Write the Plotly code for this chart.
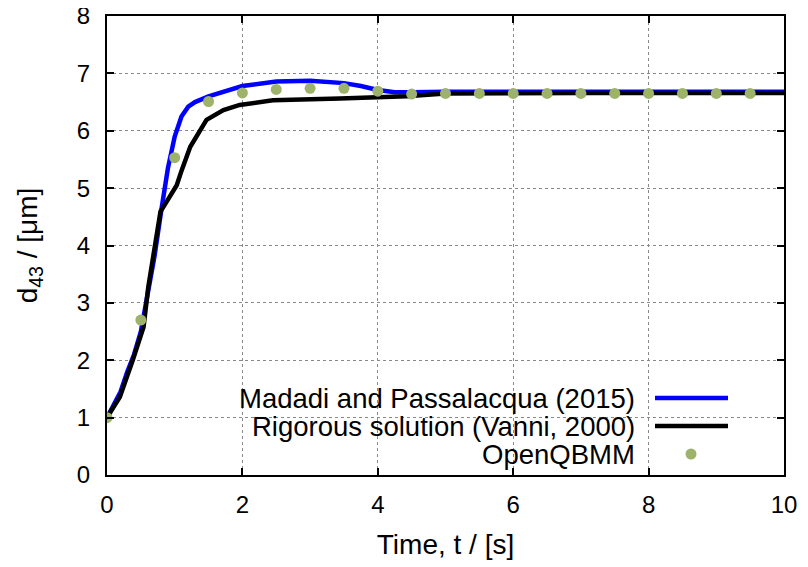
import plotly.graph_objects as go

# ---- data ----
t_madadi = [0, 0.1, 0.2, 0.3, 0.4, 0.5, 0.6, 0.7, 0.8, 0.9, 1.0, 1.1, 1.2, 1.3, 1.5,
            1.75, 2.0, 2.5, 3.0, 3.5, 3.75, 4.0, 4.25, 4.5, 5.0, 6.0, 7.0, 8.0, 9.0, 10.0]
d_madadi = [1.0, 1.22, 1.45, 1.8, 2.1, 2.5, 3.1, 3.8, 4.6, 5.35, 5.9, 6.25, 6.42, 6.5, 6.6,
            6.7, 6.78, 6.86, 6.87, 6.83, 6.78, 6.71, 6.67, 6.67, 6.68, 6.68, 6.68, 6.68, 6.68, 6.68]

t_rigorous = [0, 0.19, 0.38, 0.54, 0.61, 0.68, 0.79, 0.9, 1.03, 1.1, 1.23, 1.47, 1.72, 1.96,
              2.45, 3.44, 4.43, 5.0, 6.0, 7.0, 8.0, 9.0, 10.0]
d_rigorous = [1.0, 1.36, 2.0, 2.58, 3.28, 3.75, 4.59, 4.8, 5.05, 5.3, 5.72, 6.19, 6.36, 6.45,
              6.53, 6.56, 6.6, 6.65, 6.66, 6.66, 6.66, 6.66, 6.66]

t_qbmm = [0.0, 0.5, 1.0, 1.5, 2.0, 2.5, 3.0, 3.5, 4.0, 4.5,
          5.0, 5.5, 6.0, 6.5, 7.0, 7.5, 8.0, 8.5, 9.0, 9.5]
d_qbmm = [1.0, 2.7, 5.53, 6.51, 6.66, 6.72, 6.74, 6.74, 6.69, 6.64,
          6.65, 6.65, 6.65, 6.65, 6.65, 6.65, 6.65, 6.65, 6.65, 6.65]

names = ["Madadi and Passalacqua (2015)", "Rigorous solution (Vanni, 2000)", "OpenQBMM"]
x_ticks = [0, 2, 4, 6, 8, 10]
y_ticks = [0, 1, 2, 3, 4, 5, 6, 7, 8]

BLUE = "#0000ff"
BLACK = "#000000"
GREEN = "#9db26a"
FONT = "Liberation Sans"

fig = go.Figure()
fig.add_trace(go.Scatter(x=t_madadi, y=d_madadi, mode="lines", name=names[0],
                         line=dict(color=BLUE, width=4.5), showlegend=False))
fig.add_trace(go.Scatter(x=t_rigorous, y=d_rigorous, mode="lines", name=names[1],
                         line=dict(color=BLACK, width=4.5), showlegend=False))
fig.add_trace(go.Scatter(x=t_qbmm, y=d_qbmm, mode="markers", name=names[2],
                         marker=dict(color=GREEN, size=11), showlegend=False))

# ---- custom legend (gnuplot style: text right, sample on right) ----
W, H = 677.0, 459.0  # plot area in px (page coords: x 107..784, y 16..475)
def px(xp):
    return (xp - 107) / W
def py(yp):
    return (475 - yp) / H

shapes = [dict(type="rect", xref="paper", yref="paper", x0=px(123), x1=px(745),
               y0=py(474), y1=py(383), fillcolor="white", line=dict(width=0), layer="between")]
rows = [398, 426, 454]
shapes.append(dict(type="line", xref="paper", yref="paper", x0=px(655), x1=px(728),
                   y0=py(rows[0]), y1=py(rows[0]), line=dict(color=BLUE, width=4.5)))
shapes.append(dict(type="line", xref="paper", yref="paper", x0=px(655), x1=px(728),
                   y0=py(rows[1]), y1=py(rows[1]), line=dict(color=BLACK, width=4.5)))
r = 5.5
shapes.append(dict(type="circle", xref="paper", yref="paper", x0=px(691 - r), x1=px(691 + r),
                   y0=py(rows[2] + r), y1=py(rows[2] - r), fillcolor=GREEN, line=dict(width=0)))

annotations = []
for nm, yr in zip(names, rows):
    annotations.append(dict(text=nm, xref="paper", yref="paper", x=px(637), y=py(yr),
                            xanchor="right", yanchor="middle", showarrow=False,
                            font=dict(family=FONT, size=27.5, color="black")))

axis_common = dict(showline=True, linecolor="black", linewidth=2, mirror="ticks",
                   ticks="inside", ticklen=7, tickwidth=2, tickcolor="black",
                   showgrid=True, gridcolor="#888888", gridwidth=1, griddash="dot",
                   zeroline=False, automargin=False, ticklabeloverflow="allow",
                   tickfont=dict(family=FONT, size=24, color="black"))

# page body has an 8px margin, so the figure is 800x559 and offset by 8px
fig.update_layout(
    width=800, height=559,
    margin=dict(l=99, r=24, t=8, b=92),
    paper_bgcolor="white", plot_bgcolor="white",
    font=dict(family=FONT, color="black"),
    xaxis=dict(range=[0, 10], tickvals=x_ticks, ticklabelstandoff=7,
               title=dict(text="Time, t / [s]", font=dict(family=FONT, size=28), standoff=18),
               **axis_common),
    yaxis=dict(range=[0, 8], tickvals=y_ticks, ticklabelstandoff=10,
               title=dict(text="d<sub>43</sub> / [μm]", font=dict(family=FONT, size=28), standoff=31),
               **axis_common),
    shapes=shapes,
    annotations=annotations,
    showlegend=False,
)

fig.write_html("out.html")
